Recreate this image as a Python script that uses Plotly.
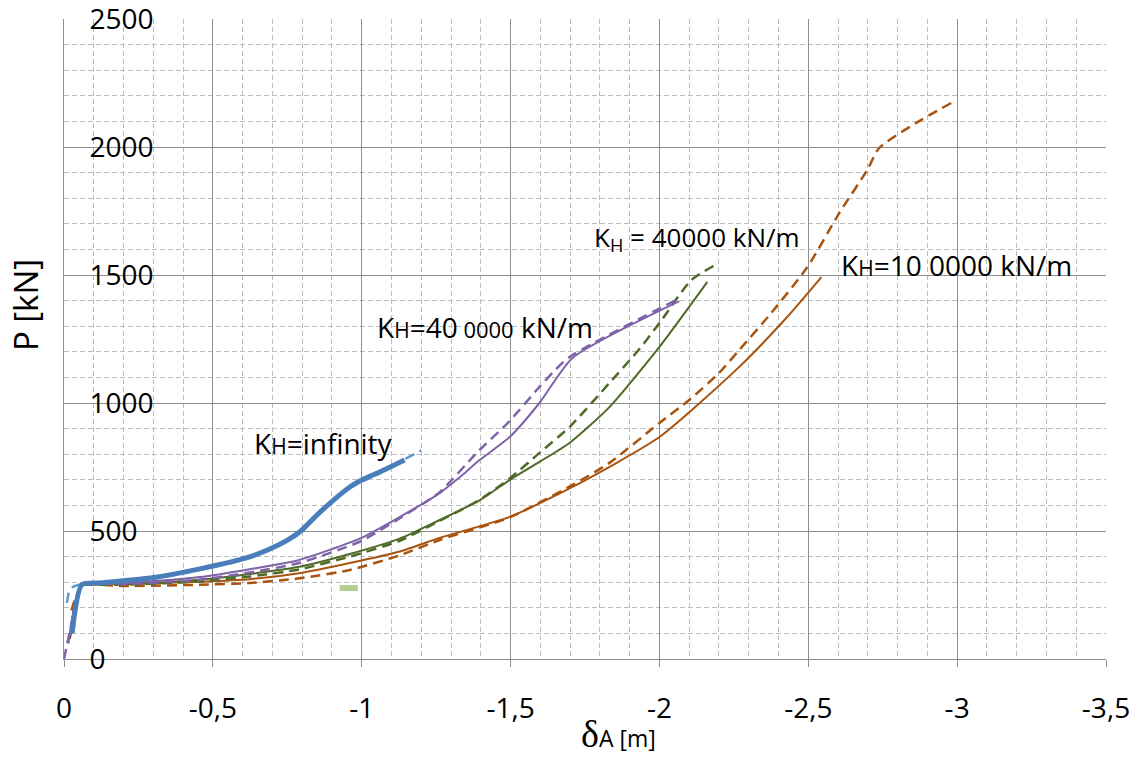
import plotly.graph_objects as go

# Load-displacement curves P(δA) for several horizontal spring stiffnesses
# (solid = one model, dashed = comparison model)

inf_solid_x = [-0.027, -0.06, -0.12, -0.29, -0.456, -0.62, -0.72, -0.79, -0.86, -0.96, -1.01, -1.06, -1.144]
inf_solid_y = [100, 290, 297, 316, 352, 398, 445, 495, 574, 672, 705, 730, 777]

inf_dash_x = [-0.01, -0.017, -0.03, -0.06, -0.12, -0.29, -0.456, -0.62, -0.79, -0.86, -0.9, -0.96, -1.06, -1.144, -1.2]
inf_dash_y = [219, 262, 281, 293, 295, 312, 348, 393, 488, 575, 620, 668, 727, 780, 815]

k400_solid_x = [-0.015, -0.06, -0.2, -0.456, -0.624, -0.79, -0.993, -1.128, -1.262, -1.33, -1.396, -1.497, -1.597, -1.708, -2.067]
k400_solid_y = [60, 290, 295, 320, 351, 387, 470, 555, 648, 711, 777, 867, 1000, 1176, 1398]

k400_dash_x = [0, -0.027, -0.06, -0.2, -0.456, -0.624, -0.79, -0.993, -1.128, -1.262, -1.386, -1.497, -1.597, -1.65, -1.698, -2.055]
k400_dash_y = [0, 145, 290, 292, 310, 338, 375, 458, 550, 652, 805, 930, 1063, 1129, 1180, 1402]

k40_solid_x = [-0.02, -0.06, -0.2, -0.456, -0.624, -0.79, -0.96, -1.128, -1.262, -1.396, -1.497, -1.597, -1.698, -1.832, -2.0, -2.161]
k40_solid_y = [80, 290, 293, 310, 332, 360, 410, 470, 543, 620, 699, 770, 844, 984, 1219, 1473]

k40_dash_x = [-0.06, -0.2, -0.456, -0.624, -0.79, -0.96, -1.128, -1.262, -1.396, -1.497, -1.597, -1.698, -1.832, -1.93, -2.0, -2.107, -2.2]
k40_dash_y = [290, 290, 303, 322, 350, 400, 462, 540, 622, 705, 805, 906, 1078, 1207, 1312, 1480, 1547]

k100_solid_x = [-0.02, -0.06, -0.2, -0.456, -0.624, -0.79, -0.96, -1.128, -1.262, -1.497, -1.708, -2.0, -2.268, -2.426, -2.544]
k100_solid_y = [80, 290, 292, 302, 312, 335, 375, 420, 473, 555, 672, 867, 1141, 1332, 1492]

k100_dash_x = [-0.025, -0.06, -0.2, -0.456, -0.624, -0.79, -0.96, -1.128, -1.262, -1.497, -1.708, -1.832, -2.0, -2.1,
               -2.2, -2.268, -2.376, -2.497, -2.604, -2.698, -2.738, -2.862, -2.98]
k100_dash_y = [190, 285, 285, 290, 297, 315, 348, 405, 465, 553, 680, 766, 922, 1012, 1117, 1207, 1352, 1531, 1742,
               1910, 1996, 2094, 2172]

marker_x = [-0.926, -0.987]
marker_y = [277, 277]

x_ticks = [0, -0.5, -1, -1.5, -2, -2.5, -3, -3.5]
x_tick_text = ["0", "-0,5", "-1", "-1,5", "-2", "-2,5", "-3", "-3,5"]
y_ticks = [0, 500, 1000, 1500, 2000, 2500]
y_tick_text = ["0", "500", "1000", "1500", "2000", "2500"]

BLUE = "#4A7EBB"
BLUE_LIGHT = "#5B9BD5"
PURPLE = "#7F62A8"
GREEN = "#4F6A28"
ORANGE = "#A8530E"
DASH = "10px,6px"

fig = go.Figure()


def add_line(x, y, color, width, dash="solid", smooth=True):
    line = dict(color=color, width=width, dash=dash)
    if smooth:
        line.update(shape="spline", smoothing=0.6)
    fig.add_trace(go.Scatter(x=x, y=y, mode="lines", showlegend=False, hoverinfo="skip", line=line))


add_line(marker_x, marker_y, "#B5CD8E", 6, smooth=False)
add_line(k100_dash_x, k100_dash_y, ORANGE, 2.5, DASH)
add_line(k100_solid_x, k100_solid_y, ORANGE, 2)
add_line(k40_dash_x, k40_dash_y, GREEN, 2.5, DASH)
add_line(k40_solid_x, k40_solid_y, GREEN, 2)
add_line(k400_dash_x, k400_dash_y, PURPLE, 2.5, DASH)
add_line(k400_solid_x, k400_solid_y, PURPLE, 2)
add_line(inf_dash_x, inf_dash_y, BLUE_LIGHT, 2.5, DASH)
add_line(inf_solid_x, inf_solid_y, BLUE, 5)

FONT = "Open Sans"
SMALL_H = "<span style='font-size:21px'>H</span>"


def label(x, y, text, size=28):
    fig.add_annotation(x=x, y=y, xref="x", yref="y", text=text, showarrow=False,
                       xanchor="left", yanchor="middle", font=dict(family=FONT, size=size, color="black"))


label(-0.631, 844, "K" + SMALL_H + "=infinity")
label(-1.044, 1297, "K" + SMALL_H + "=40<span style='font-size:22px'> 0000</span> kN/m")
label(-1.772, 1645, "K<sub>H</sub> = 40000 kN/m", size=26)
label(-2.604, 1539, "K" + SMALL_H + "=10 0000 kN/m")

# axis titles
fig.add_annotation(x=-0.0374, y=0.553, xref="paper", yref="paper", xanchor="center", yanchor="middle",
                   text="P [kN]", textangle=-90,
                   showarrow=False, font=dict(family=FONT, size=33, color="black"))
fig.add_annotation(x=0.532, y=-0.117, xref="paper", yref="paper", xanchor="center", yanchor="middle",
                   text="<span style='font-family:Liberation Serif;font-size:38px'>δ</span>"
                        "<span style='font-size:23px'>A [m]</span>",
                   showarrow=False, font=dict(family=FONT, size=24, color="black"))

MAJOR = "#8E8E8E"
MINOR = "#BDBDBD"

fig.update_xaxes(range=[0, -3.5], tickvals=x_ticks, ticktext=x_tick_text,
                 showgrid=True, gridcolor=MAJOR, gridwidth=1,
                 showline=True, linecolor=MAJOR, linewidth=1,
                 ticks="outside", ticklen=7, tickcolor=MAJOR, ticklabelstandoff=17,
                 ticklabeloverflow="allow", automargin=False,
                 tickfont=dict(family=FONT, size=28, color="black"),
                 minor=dict(dtick=0.1, tick0=0, showgrid=True, gridcolor=MINOR, griddash="5px,3px", gridwidth=1),
                 zeroline=False, mirror=False)
fig.update_yaxes(range=[0, 2500], tickvals=y_ticks, ticktext=y_tick_text,
                 showgrid=True, gridcolor=MAJOR, gridwidth=1,
                 showline=True, linecolor=MAJOR, linewidth=1,
                 ticks="", ticklabelposition="inside", ticklabelstandoff=28,
                 ticklabeloverflow="allow", automargin=False,
                 tickfont=dict(family=FONT, size=28, color="black"),
                 minor=dict(dtick=100, tick0=0, showgrid=True, gridcolor=MINOR, griddash="5px,3px", gridwidth=1),
                 zeroline=False)

fig.update_layout(width=1138, height=762, margin=dict(l=64, r=32, t=19, b=103, autoexpand=False),
                  paper_bgcolor="white", plot_bgcolor="white", showlegend=False)

fig.write_html("out.html")
